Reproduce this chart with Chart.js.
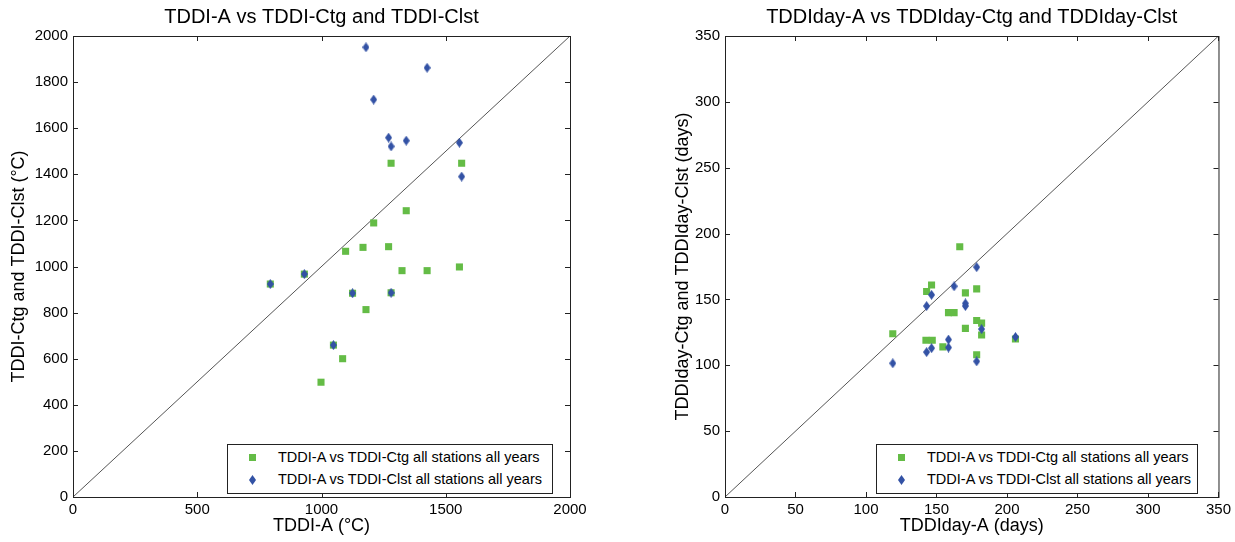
<!DOCTYPE html>
<html>
<head>
<meta charset="utf-8">
<script src="https://cdn.jsdelivr.net/npm/chart.js@4.4.1/dist/chart.umd.min.js"></script>
<style>
  body { margin: 0; background: #fff; font-family: "Liberation Sans", Arial, sans-serif; }
  .wrap { position: absolute; top: 0; height: 542px; }
  .legend {
    position: absolute; box-sizing: border-box; background: #fff;
    border: 1px solid #222; font-size: 14.5px; color: #000;
  }
  .legend .row { position: absolute; left: 0; white-space: nowrap; line-height: 18px; }
  .legend .mk { position: absolute; }
  .legend .sq { width: 7px; height: 7px; background: #64bc46; }
  .legend .dm { width: 7px; height: 10px; background: #3352a5;
    clip-path: polygon(50% 0, 100% 50%, 50% 100%, 0 50%); }
</style>
</head>
<body>
<div class="wrap" style="left:0;width:617px"><canvas id="leftChart"></canvas></div>
<div class="wrap" style="left:617px;width:618px"><canvas id="rightChart"></canvas></div>
<div id="legendLeft" class="legend" style="left:227px;top:444px;width:326px;height:50px"></div>
<div id="legendRight" class="legend" style="left:876px;top:444px;width:322px;height:50px"></div>
<script>
// TDDI (degree C) - accumulated freezing index
const leftCtgX = [794, 931, 998, 1048, 1085, 1097, 1125, 1167, 1179, 1210, 1270, 1280, 1280, 1324, 1341, 1425, 1555, 1564];
const leftCtgY = [924, 967, 498, 659, 600, 1066, 884, 1083, 813, 1189, 1086, 886, 1448, 982, 1242, 982, 998, 1448];
const leftClstX = [794, 931, 1048, 1125, 1179, 1210, 1270, 1280, 1280, 1341, 1425, 1555, 1564];
const leftClstY = [924, 967, 659, 884, 1951, 1724, 1559, 1521, 886, 1546, 1862, 1537, 1390];

// TDDIday (days)
const rightCtgX = [119, 142.5, 143, 146.5, 147, 154.5, 158.5, 162.5, 166.5, 170.5, 170.5, 178.5, 178.5, 178.5, 182, 182, 206];
const rightCtgY = [124, 119, 156, 161, 119, 114, 140, 140, 190, 155, 128, 158, 134, 108, 132, 123, 120];
const rightClstX = [119, 143, 143, 146.5, 146.5, 158.5, 158.5, 162.5, 170.5, 170.5, 178.5, 178.5, 182, 206];
const rightClstY = [101.5, 145, 110, 153.5, 113, 119.5, 113.5, 160, 147, 145, 174.5, 103, 127.5, 121.5];

const leftRange = [0, 2000];
const rightRange = [0, 350];

const ctgLabel = "TDDI-A vs TDDI-Ctg all stations all years";
const clstLabel = "TDDI-A vs TDDI-Clst all stations all years";

const GREEN = "#64bc46";
const BLUE = "#3352a5";
const FONT = "'Liberation Sans', Arial, sans-serif";

function diamond(w, h, color) {
  const c = document.createElement("canvas");
  c.width = w; c.height = h;
  const g = c.getContext("2d");
  g.fillStyle = color;
  g.beginPath();
  g.moveTo(w / 2, 0); g.lineTo(w, h / 2); g.lineTo(w / 2, h); g.lineTo(0, h / 2);
  g.closePath();
  g.fill();
  return c;
}

const toPoints = (xs, ys) => xs.map((x, i) => ({ x: x, y: ys[i] }));

// matlab style box with inward ticks on all four sides
const boxTicks = {
  id: "boxTicks",
  afterDraw(chart) {
    const { ctx, chartArea: a, scales } = chart;
    ctx.save();
    ctx.strokeStyle = "#222";
    ctx.lineWidth = 1;
    ctx.strokeRect(a.left + 0.5, a.top + 0.5, a.right - a.left, a.bottom - a.top);
    ctx.beginPath();
    scales.x.ticks.forEach((t) => {
      const px = Math.round(scales.x.getPixelForValue(t.value)) + 0.5;
      ctx.moveTo(px, a.bottom); ctx.lineTo(px, a.bottom - 5);
      ctx.moveTo(px, a.top); ctx.lineTo(px, a.top + 5);
    });
    scales.y.ticks.forEach((t) => {
      const py = Math.round(scales.y.getPixelForValue(t.value)) + 0.5;
      ctx.moveTo(a.left, py); ctx.lineTo(a.left + 5, py);
      ctx.moveTo(a.right, py); ctx.lineTo(a.right - 5, py);
    });
    ctx.stroke();
    ctx.restore();
  },
};

function makeChart(id, cfg) {
  const diamondImg = diamond(7, 10, BLUE);
  return new Chart(document.getElementById(id), {
    type: "scatter",
    data: {
      datasets: [
        {
          label: clstLabel,
          data: toPoints(cfg.clstX, cfg.clstY),
          pointStyle: diamondImg,
          pointRadius: 5,
          order: 0,
        },
        {
          label: ctgLabel,
          data: toPoints(cfg.ctgX, cfg.ctgY),
          pointStyle: "rect",
          pointRadius: 5,
          backgroundColor: GREEN,
          borderWidth: 0,
          order: 1,
        },
        {
          label: "1:1",
          data: toPoints(cfg.range, cfg.range),
          showLine: true,
          borderColor: "#555",
          borderWidth: 1,
          pointRadius: 0,
          order: 2,
        },
      ],
    },
    options: {
      responsive: true,
      maintainAspectRatio: false,
      animation: false,
      events: [],
      layout: { padding: { left: 0, top: 0, right: cfg.padRight, bottom: 0 } },
      plugins: {
        legend: { display: false },
        tooltip: { enabled: false },
        title: {
          display: true,
          text: cfg.title,
          fullSize: false,
          color: "#000",
          font: { family: FONT, size: 20, weight: "normal" },
          padding: { top: 5, bottom: 7 },
        },
      },
      scales: {
        x: {
          type: "linear",
          min: cfg.range[0],
          max: cfg.range[1],
          grid: { display: false, drawTicks: false },
          border: { display: false },
          ticks: {
            stepSize: cfg.xStep, color: "#000", padding: 4,
            font: { family: FONT, size: 15 },
            callback: (v) => String(v),
          },
          title: {
            display: true,
            text: cfg.xTitle,
            color: "#000",
            font: { family: FONT, size: 18 },
            padding: { top: 0, bottom: 5 },
          },
          afterFit: (s) => { s.height = 45; },
        },
        y: {
          type: "linear",
          min: cfg.range[0],
          max: cfg.range[1],
          grid: { display: false, drawTicks: false },
          border: { display: false },
          ticks: {
            stepSize: cfg.yStep, color: "#000", padding: 5,
            font: { family: FONT, size: 15 },
            callback: (v) => String(v),
          },
          title: {
            display: true,
            text: cfg.yTitle,
            color: "#000",
            font: { family: FONT, size: 18 },
            padding: { top: cfg.yTitlePad, bottom: 0 },
          },
          afterFit: (s) => { s.width = cfg.yWidth; },
        },
      },
    },
    plugins: [boxTicks],
  });
}

makeChart("leftChart", {
  ctgX: leftCtgX, ctgY: leftCtgY, clstX: leftClstX, clstY: leftClstY,
  range: leftRange, xStep: 500, yStep: 200,
  title: "TDDI-A vs TDDI-Ctg and TDDI-Clst",
  xTitle: "TDDI-A (°C)",
  yTitle: "TDDI-Ctg and TDDI-Clst (°C)",
  yWidth: 73, yTitlePad: 8, padRight: 47,
});

makeChart("rightChart", {
  ctgX: rightCtgX, ctgY: rightCtgY, clstX: rightClstX, clstY: rightClstY,
  range: rightRange, xStep: 50, yStep: 50,
  title: "TDDIday-A vs TDDIday-Ctg and TDDIday-Clst",
  xTitle: "TDDIday-A (days)",
  yTitle: "TDDIday-Ctg and TDDIday-Clst (days)",
  yWidth: 108, yTitlePad: 55, padRight: 12,
});

function fillLegend(id) {
  const box = document.getElementById(id);
  box.innerHTML =
    '<div class="mk sq" style="left:21px;top:9px"></div>' +
    '<div class="row" style="left:50px;top:3px">' + ctgLabel + '</div>' +
    '<div class="mk dm" style="left:21px;top:30px"></div>' +
    '<div class="row" style="left:50px;top:25px">' + clstLabel + '</div>';
}
fillLegend("legendLeft");
fillLegend("legendRight");
</script>
</body>
</html>
